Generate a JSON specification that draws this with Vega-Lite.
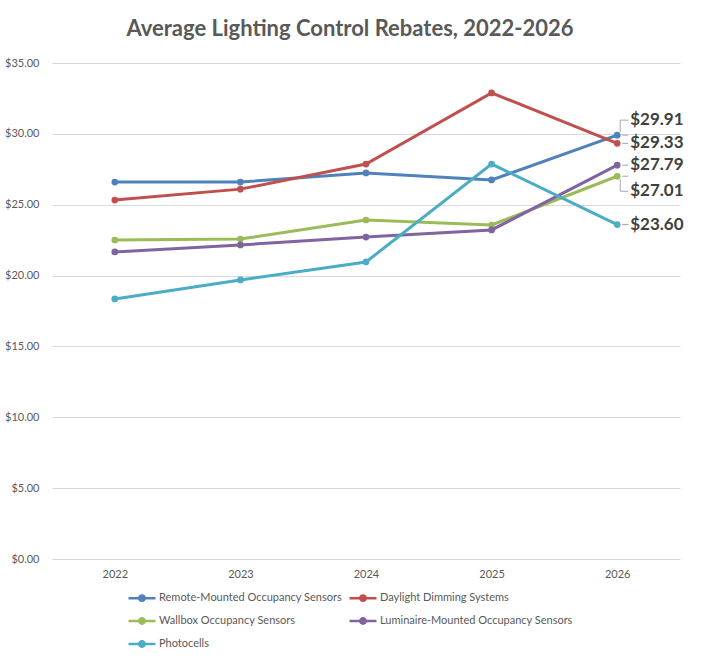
{
  "$schema": "https://vega.github.io/schema/vega-lite/v6.json",
  "width": 628,
  "height": 496,
  "autosize": "none",
  "padding": {"left": 52, "top": 63, "right": 22, "bottom": 103},
  "background": "white",
  "title": {
    "text": "Average Lighting Control Rebates, 2022-2026",
    "font": "Lato",
    "fontSize": 22,
    "fontWeight": "bold",
    "color": "#595959",
    "anchor": "middle",
    "dx": -16,
    "offset": 16
  },
  "data": {
    "values": [
      {"series": "Remote-Mounted Occupancy Sensors", "year": "2022", "value": 26.6},
      {"series": "Remote-Mounted Occupancy Sensors", "year": "2023", "value": 26.6},
      {"series": "Remote-Mounted Occupancy Sensors", "year": "2024", "value": 27.24},
      {"series": "Remote-Mounted Occupancy Sensors", "year": "2025", "value": 26.75},
      {"series": "Remote-Mounted Occupancy Sensors", "year": "2026", "value": 29.91},
      {"series": "Daylight Dimming Systems", "year": "2022", "value": 25.33},
      {"series": "Daylight Dimming Systems", "year": "2023", "value": 26.1},
      {"series": "Daylight Dimming Systems", "year": "2024", "value": 27.87},
      {"series": "Daylight Dimming Systems", "year": "2025", "value": 32.89},
      {"series": "Daylight Dimming Systems", "year": "2026", "value": 29.33},
      {"series": "Wallbox Occupancy Sensors", "year": "2022", "value": 22.51},
      {"series": "Wallbox Occupancy Sensors", "year": "2023", "value": 22.58},
      {"series": "Wallbox Occupancy Sensors", "year": "2024", "value": 23.92},
      {"series": "Wallbox Occupancy Sensors", "year": "2025", "value": 23.57},
      {"series": "Wallbox Occupancy Sensors", "year": "2026", "value": 27.01},
      {"series": "Luminaire-Mounted Occupancy Sensors", "year": "2022", "value": 21.67},
      {"series": "Luminaire-Mounted Occupancy Sensors", "year": "2023", "value": 22.16},
      {"series": "Luminaire-Mounted Occupancy Sensors", "year": "2024", "value": 22.72},
      {"series": "Luminaire-Mounted Occupancy Sensors", "year": "2025", "value": 23.22},
      {"series": "Luminaire-Mounted Occupancy Sensors", "year": "2026", "value": 27.79},
      {"series": "Photocells", "year": "2022", "value": 18.35},
      {"series": "Photocells", "year": "2023", "value": 19.69},
      {"series": "Photocells", "year": "2024", "value": 20.96},
      {"series": "Photocells", "year": "2025", "value": 27.87},
      {"series": "Photocells", "year": "2026", "value": 23.6}
    ]
  },
  "encoding": {
    "x": {
      "field": "year",
      "type": "ordinal",
      "title": null,
      "scale": {"type": "point", "padding": 0.5},
      "axis": {"labelAngle": 0, "labelPadding": 9, "grid": false, "domain": false, "ticks": false}
    },
    "y": {
      "field": "value",
      "type": "quantitative",
      "title": null,
      "scale": {"domain": [0, 35], "nice": false},
      "axis": {"values": [0, 5, 10, 15, 20, 25, 30, 35], "format": "$.2f", "labelPadding": 13, "domain": false, "ticks": false, "gridColor": "#D9D9D9"}
    }
  },
  "layer": [
    {
      "mark": {"type": "line", "strokeWidth": 3, "point": {"filled": true, "size": 45}},
      "encoding": {
        "color": {
          "field": "series",
          "type": "nominal",
          "scale": {
            "domain": ["Remote-Mounted Occupancy Sensors", "Daylight Dimming Systems", "Wallbox Occupancy Sensors", "Luminaire-Mounted Occupancy Sensors", "Photocells"],
            "range": ["#4F81BD", "#C0504D", "#9BBB59", "#8064A2", "#4BACC6"]
          },
          "legend": {
            "title": null,
            "orient": "none",
            "legendX": 75,
            "legendY": 520,
            "direction": "horizontal",
            "columns": 2,
            "columnPadding": 2,
            "rowPadding": -5,
            "symbolType": "M-1,0H1M-0.2,0A0.2,0.2,0,1,1,0.2,0A0.2,0.2,0,1,1,-0.2,0",
            "symbolSize": 729,
            "symbolStrokeWidth": 2.5,
            "labelFont": "Lato",
            "labelFontSize": 11,
            "labelColor": "#595959",
            "labelOffset": 2,
            "labelLimit": 300
          }
        }
      }
    },
    {
      "transform": [{"filter": "datum.year == '2026'"}],
      "mark": {"type": "rule", "color": "#A6A6A6", "strokeWidth": 1, "xOffset": 5, "x2Offset": 11},
      "encoding": {
        "x2": {"field": "year"}
      }
    },
    {
      "transform": [{"filter": "datum.series == 'Remote-Mounted Occupancy Sensors' && datum.year == '2026'"}],
      "mark": {"type": "rule", "color": "#A6A6A6", "strokeWidth": 1, "xOffset": 3, "yOffset": -3, "y2Offset": -15},
      "encoding": {"y2": {"field": "value"}}
    },
    {
      "transform": [{"filter": "datum.series == 'Remote-Mounted Occupancy Sensors' && datum.year == '2026'"}],
      "mark": {"type": "rule", "color": "#A6A6A6", "strokeWidth": 1, "xOffset": 3, "x2Offset": 11, "yOffset": -15},
      "encoding": {"x2": {"field": "year"}}
    },
    {
      "transform": [{"filter": "datum.series == 'Wallbox Occupancy Sensors' && datum.year == '2026'"}],
      "mark": {"type": "rule", "color": "#A6A6A6", "strokeWidth": 1, "xOffset": 3, "yOffset": 3, "y2Offset": 15},
      "encoding": {"y2": {"field": "value"}}
    },
    {
      "transform": [{"filter": "datum.series == 'Wallbox Occupancy Sensors' && datum.year == '2026'"}],
      "mark": {"type": "rule", "color": "#A6A6A6", "strokeWidth": 1, "xOffset": 3, "x2Offset": 11, "yOffset": 15},
      "encoding": {"x2": {"field": "year"}}
    },
    {
      "transform": [{"filter": "datum.year == '2026' && datum.series != 'Remote-Mounted Occupancy Sensors' && datum.series != 'Wallbox Occupancy Sensors'"}],
      "mark": {"type": "text", "align": "left", "baseline": "middle", "dx": 13, "font": "Lato", "fontSize": 17, "fontWeight": "bold", "color": "#404040"},
      "encoding": {"text": {"field": "value", "type": "quantitative", "format": "$.2f"}}
    },
    {
      "transform": [{"filter": "datum.year == '2026' && datum.series == 'Remote-Mounted Occupancy Sensors'"}],
      "mark": {"type": "text", "align": "left", "baseline": "middle", "dx": 13, "dy": -15, "font": "Lato", "fontSize": 17, "fontWeight": "bold", "color": "#404040"},
      "encoding": {"text": {"field": "value", "type": "quantitative", "format": "$.2f"}}
    },
    {
      "transform": [{"filter": "datum.year == '2026' && datum.series == 'Wallbox Occupancy Sensors'"}],
      "mark": {"type": "text", "align": "left", "baseline": "middle", "dx": 13, "dy": 15, "font": "Lato", "fontSize": 17, "fontWeight": "bold", "color": "#404040"},
      "encoding": {"text": {"field": "value", "type": "quantitative", "format": "$.2f"}}
    }
  ],
  "config": {
    "view": {"stroke": null},
    "axis": {"labelFont": "Lato", "labelFontSize": 11, "labelColor": "#595959"},
    "text": {"font": "Lato"}
  }
}
